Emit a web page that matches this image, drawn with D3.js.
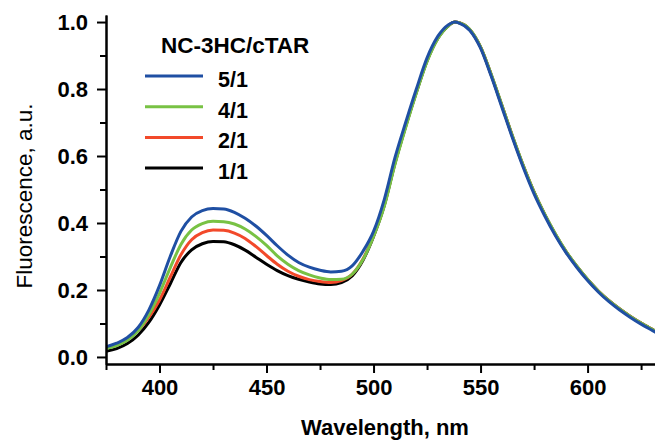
<!DOCTYPE html>
<html>
<head>
<meta charset="utf-8">
<script src="https://cdnjs.cloudflare.com/ajax/libs/d3/7.8.5/d3.min.js"></script>
<style>
  body { margin: 0; background: #fff; }
  text { font-family: "Liberation Sans", Arial, sans-serif; }
</style>
</head>
<body>
<div id="graph"></div>
<script>
var wavelength = [375,380,385,390,395,400,405,410,415,420,425,430,435,440,445,450,455,460,465,470,475,480,485,490,495,500,505,510,515,520,525,530,535,538,540,545,550,555,560,565,570,575,580,585,590,595,600,605,610,615,620,625,630,632];

var ratio51 = [0.030,0.041,0.058,0.088,0.140,0.213,0.300,0.375,0.418,0.437,0.443,0.442,0.432,0.414,0.391,0.363,0.332,0.304,0.282,0.268,0.259,0.254,0.256,0.272,0.315,0.375,0.470,0.595,0.700,0.800,0.893,0.957,0.992,1.000,0.997,0.975,0.922,0.838,0.745,0.652,0.565,0.487,0.421,0.362,0.311,0.267,0.228,0.194,0.165,0.140,0.118,0.098,0.080,0.073];
var ratio41 = [0.025,0.034,0.050,0.078,0.126,0.190,0.266,0.336,0.379,0.398,0.405,0.404,0.397,0.382,0.360,0.333,0.302,0.277,0.258,0.245,0.236,0.231,0.232,0.247,0.290,0.360,0.450,0.575,0.685,0.788,0.882,0.950,0.989,1.000,0.998,0.978,0.926,0.843,0.751,0.658,0.571,0.493,0.426,0.367,0.315,0.271,0.232,0.197,0.168,0.143,0.121,0.101,0.083,0.076];
var ratio21 = [0.029,0.039,0.054,0.079,0.118,0.170,0.238,0.305,0.350,0.371,0.379,0.378,0.370,0.354,0.330,0.303,0.277,0.256,0.241,0.231,0.225,0.222,0.228,0.247,0.292,0.362,0.455,0.580,0.690,0.792,0.886,0.952,0.990,1.000,0.998,0.977,0.925,0.842,0.750,0.657,0.570,0.492,0.425,0.366,0.314,0.270,0.231,0.197,0.168,0.143,0.121,0.101,0.083,0.076];
var ratio11 = [0.017,0.025,0.040,0.065,0.103,0.155,0.218,0.282,0.320,0.338,0.345,0.344,0.335,0.319,0.298,0.277,0.258,0.243,0.232,0.224,0.218,0.216,0.222,0.242,0.288,0.360,0.452,0.578,0.688,0.790,0.884,0.951,0.989,1.000,0.998,0.977,0.925,0.842,0.750,0.657,0.570,0.492,0.425,0.366,0.314,0.270,0.231,0.197,0.168,0.143,0.121,0.101,0.083,0.076];

var labels = ["5/1", "4/1", "2/1", "1/1"];
var colors = ["#1f4fa3", "#78c244", "#f2492a", "#000000"];
var seriesList = [ratio51, ratio41, ratio21, ratio11];

var xMajor = [400, 450, 500, 550, 600];
var xMinor = [375, 425, 475, 525, 575, 625];
var yMajor = [0.0, 0.2, 0.4, 0.6, 0.8, 1.0];
var yMinor = [0.1, 0.3, 0.5, 0.7, 0.9];

var w = 655, h = 440;

var x = d3.scaleLinear().domain([375, 631.5]).range([106, 655]);
var y = d3.scaleLinear().domain([-0.021, 1.021]).range([364, 15]);

var svg = d3.select("#graph").append("svg")
    .attr("width", w)
    .attr("height", h);

svg.append("defs").append("clipPath").attr("id", "plot")
  .append("rect").attr("x", 106).attr("y", 0).attr("width", 549).attr("height", 364);

var line = d3.line()
    .x(function(d, i) { return x(wavelength[i]); })
    .y(function(d) { return y(d); })
    .curve(d3.curveMonotoneX);

// draw black first so blue ends up on top
svg.append("g").attr("clip-path", "url(#plot)")
  .selectAll("path")
  .data(seriesList.slice().reverse())
  .enter()
  .append("path")
    .attr("d", function(d) { return line(d); })
    .attr("fill", "none")
    .attr("stroke", function(d, i) { return colors[3 - i]; })
    .attr("stroke-width", 3)
    .attr("stroke-linejoin", "round");

function styleAxis(g) {
  g.selectAll(".domain").attr("stroke-width", 2);
  g.selectAll(".tick line").attr("stroke-width", 2);
  g.selectAll("text")
    .attr("font-size", "22px")
    .attr("font-weight", "bold")
    .attr("fill", "#000");
}

var xAxis = svg.append("g").attr("transform", "translate(0,364)")
  .call(d3.axisBottom(x).tickValues(xMajor).tickSize(9).tickSizeOuter(0).tickPadding(6).tickFormat(d3.format("d")));
styleAxis(xAxis);
var xAxisMinor = svg.append("g").attr("transform", "translate(0,364)")
  .call(d3.axisBottom(x).tickValues(xMinor).tickSize(6).tickSizeOuter(0).tickFormat(""));
styleAxis(xAxisMinor);

var yAxis = svg.append("g").attr("transform", "translate(106,0)")
  .call(d3.axisLeft(y).tickValues(yMajor).tickSize(9).tickSizeOuter(0).tickPadding(9).tickFormat(d3.format(".1f")));
styleAxis(yAxis);
var yAxisMinor = svg.append("g").attr("transform", "translate(106,0)")
  .call(d3.axisLeft(y).tickValues(yMinor).tickSize(6).tickSizeOuter(0).tickFormat(""));
styleAxis(yAxisMinor);

svg.append("text")
    .attr("x", 385).attr("y", 435)
    .attr("text-anchor", "middle")
    .attr("font-size", "22px")
    .attr("font-weight", "bold")
    .text("Wavelength, nm");

svg.append("text")
    .attr("transform", "translate(32,196) rotate(-90)")
    .attr("text-anchor", "middle")
    .attr("font-size", "22.5px")
    .text("Fluorescence, a.u.");

// legend
var legend = svg.append("g");
legend.append("text")
    .attr("x", 161).attr("y", 53)
    .attr("font-size", "22.5px")
    .attr("font-weight", "bold")
    .text("NC-3HC/cTAR");

var rows = legend.selectAll("g.row")
  .data(labels)
  .enter()
  .append("g")
    .attr("class", "row")
    .attr("transform", function(d, i) { return "translate(0," + (76 + i * 30.7) + ")"; });

rows.append("line")
    .attr("x1", 145).attr("x2", 203)
    .attr("y1", 0).attr("y2", 0)
    .attr("stroke", function(d, i) { return colors[i]; })
    .attr("stroke-width", 3);

rows.append("text")
    .attr("x", 218).attr("y", 11)
    .attr("font-size", "21.5px")
    .attr("font-weight", "bold")
    .text(function(d) { return d; });
</script>
</body>
</html>
